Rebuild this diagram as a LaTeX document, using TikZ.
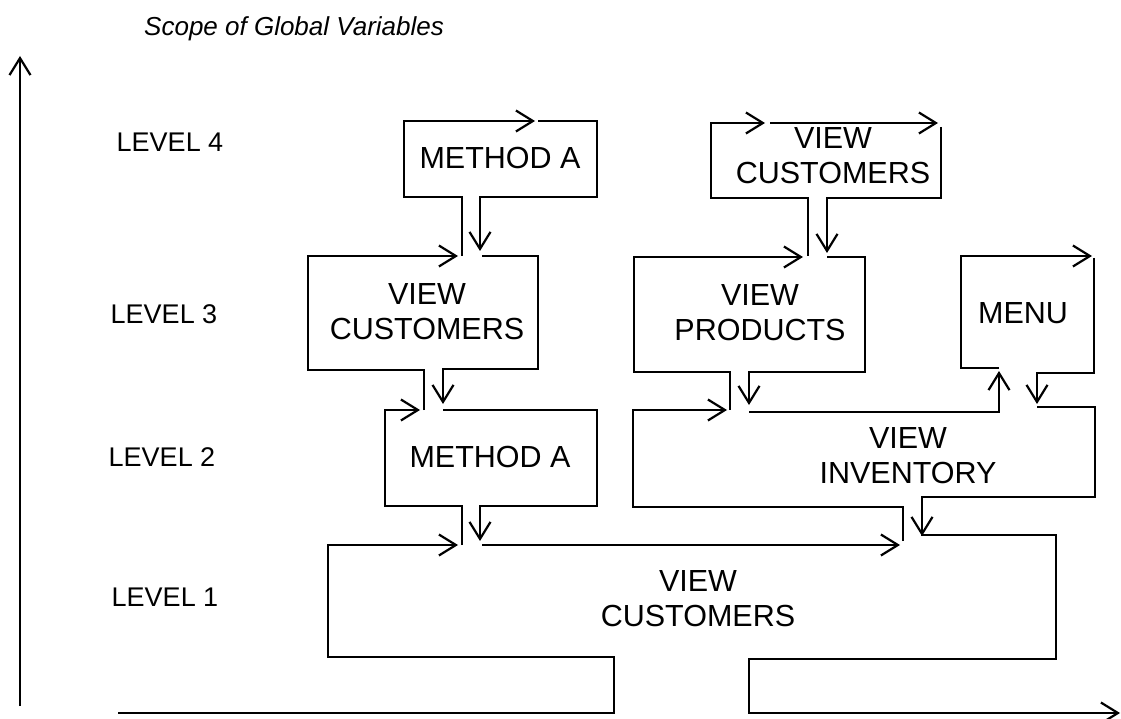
\documentclass[tikz,border=0pt]{standalone}
\usepackage{fontspec}
\setmainfont{Liberation Sans}
\usetikzlibrary{arrows.meta}

\begin{document}
\begin{tikzpicture}[x=1pt,y=-1pt,
  flowline/.style={line width=2.2pt,line join=miter},
  flowarrow/.style={flowline,-{Straight Barb[length=17pt,width=21pt,line width=2.2pt]}},
  boxtext/.style={font=\fontsize{30.5}{35}\selectfont,align=center,inner sep=0pt},
  leveltext/.style={font=\fontsize{27}{32}\selectfont,inner sep=0pt}
]
  \useasboundingbox (0,0) rectangle (1121,719);
  % Title and levels
  \node[font=\fontsize{26}{30}\selectfont\itshape,anchor=base west,inner sep=0pt] (title) at (144,36) {Scope of Global Variables};
  \node[leveltext] (lvl4) at (170,142) {LEVEL 4};
  \node[leveltext] (lvl3) at (164,314) {LEVEL 3};
  \node[leveltext] (lvl2) at (162,457) {LEVEL 2};
  \node[leveltext] (lvl1) at (165,597) {LEVEL 1};
  % Axis
  \draw[flowarrow] (20,706) -- (20,56);
  % Level 4: Method A
  \node[boxtext] (m4a) at (500,158) {METHOD A};
  \draw[flowarrow] (462,256) -- (462,197) -- (404,197) -- (404,121) -- (535,121);
  \draw[flowarrow] (538,121) -- (597,121) -- (597,197) -- (480,197) -- (480,251);
  % Level 4: View Customers
  \node[boxtext] (vc4) at (833,156) {VIEW\\CUSTOMERS};
  \draw[flowarrow] (808,256) -- (808,198) -- (711,198) -- (711,123) -- (765,123);
  \draw[flowarrow] (770,123) -- (938,123);
  \draw[flowarrow] (941,127) -- (941,198) -- (827,198) -- (827,253);
  % Level 3: View Customers
  \node[boxtext] (vc3) at (427,312) {VIEW\\CUSTOMERS};
  \draw[flowarrow] (424,410) -- (424,370) -- (308,370) -- (308,256) -- (458,256);
  \draw[flowarrow] (482,256) -- (538,256) -- (538,369) -- (443,369) -- (443,404);
  % Level 3: View Products
  \node[boxtext] (vp3) at (760,313) {VIEW\\PRODUCTS};
  \draw[flowarrow] (730,410) -- (730,372) -- (634,372) -- (634,257) -- (803,257);
  \draw[flowarrow] (827,257) -- (865,257) -- (865,372) -- (749,372) -- (749,405);
  % Level 3: Menu
  \node[boxtext] (menu) at (1023,313) {MENU};
  \draw[flowarrow] (999,368) -- (961,368) -- (961,256) -- (1092,256);
  \draw[flowarrow] (1094,258) -- (1094,373) -- (1037,373) -- (1037,404);
  % Level 2: Method A
  \node[boxtext] (m2a) at (490,457) {METHOD A};
  \draw[flowarrow] (462,545) -- (462,506) -- (385,506) -- (385,410) -- (420,410);
  \draw[flowarrow] (443,410) -- (597,410) -- (597,506) -- (480,506) -- (480,541);
  % Level 2: View Inventory
  \node[boxtext] (vi2) at (908,456) {VIEW\\INVENTORY};
  \draw[flowarrow] (903,541) -- (903,507) -- (633,507) -- (633,410) -- (727,410);
  \draw[flowarrow] (749,412) -- (999,412) -- (999,371);
  \draw[flowarrow] (1037,407) -- (1095,407) -- (1095,497) -- (922,497) -- (922,536);
  % Level 1: View Customers
  \node[boxtext] (vc1) at (698,599) {VIEW\\CUSTOMERS};
  \draw[flowarrow] (118,713) -- (614,713) -- (614,657) -- (328,657) -- (328,545) -- (458,545);
  \draw[flowarrow] (482,545) -- (900,545);
  \draw[flowarrow] (921,535) -- (1056,535) -- (1056,659) -- (749,659) -- (749,713) -- (1120,713);
\end{tikzpicture}
\end{document}
